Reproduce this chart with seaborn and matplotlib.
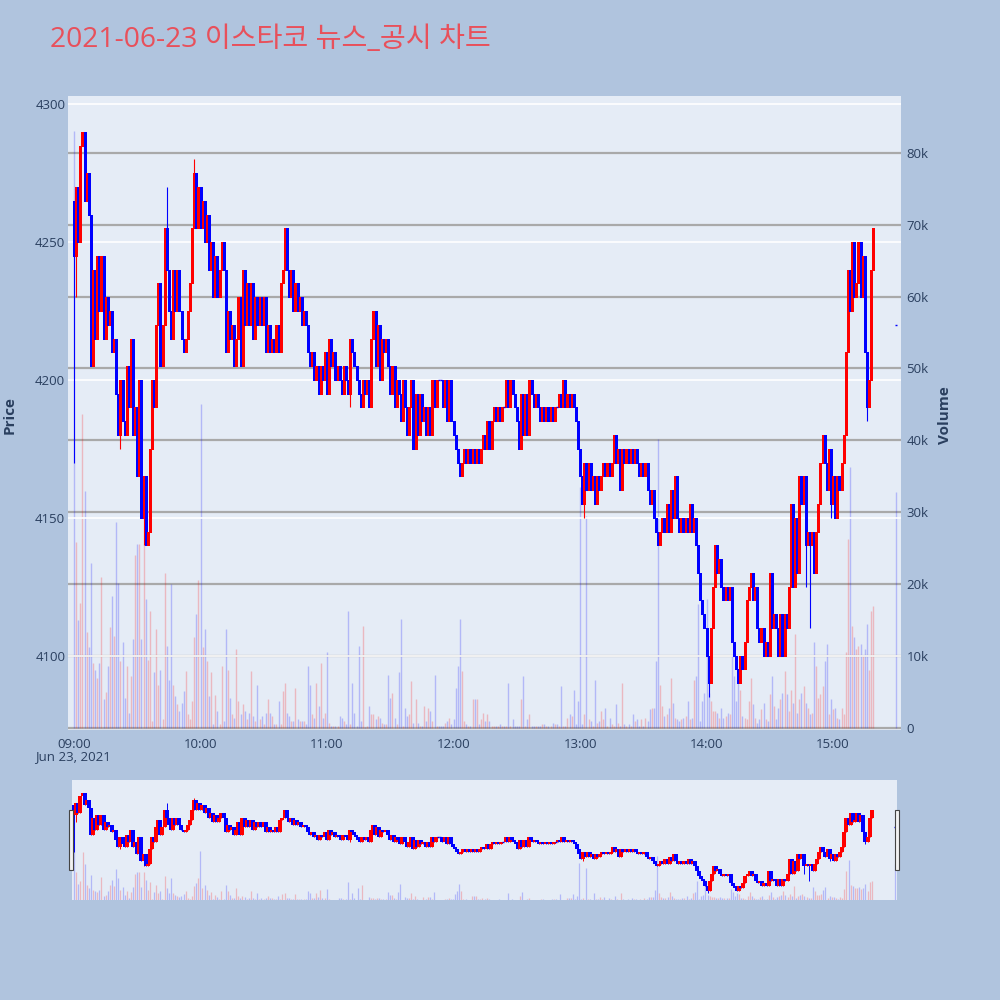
import numpy as np
import pandas as pd
import seaborn as sns
import matplotlib.pyplot as plt
import matplotlib.dates as mdates
from matplotlib.patches import Rectangle
from matplotlib.ticker import FuncFormatter

sns.set_theme(style="white")
plt.rcParams['font.family'] = ['Open Sans', 'Noto Sans CJK KR', 'DejaVu Sans']

TITLE = "2021-06-23 이스타코 뉴스_공시 차트"

# 1-minute closes, 09:00 .. 15:19
first_open = 4265
closes = [
    4245, 4270, 4250, 4285, 4290, 4265, 4275, 4260, 4205, 4240,
    4215, 4245, 4225, 4245, 4215, 4230, 4220, 4225, 4210, 4215,
    4195, 4180, 4200, 4185, 4180, 4205, 4190, 4215, 4180, 4190,
    4165, 4200, 4150, 4165, 4140, 4145, 4175, 4200, 4190, 4220,
    4235, 4205, 4220, 4255, 4240, 4225, 4215, 4240, 4225, 4240,
    4225, 4215, 4210, 4215, 4225, 4235, 4255, 4275, 4255, 4270,
    4255, 4265, 4250, 4260, 4240, 4250, 4230, 4245, 4230, 4240,
    4250, 4240, 4210, 4225, 4215, 4220, 4205, 4215, 4230, 4205,
    4240, 4220, 4235, 4220, 4235, 4215, 4230, 4220, 4230, 4220,
    4230, 4210, 4220, 4210, 4215, 4210, 4220, 4210, 4235, 4240,
    4255, 4240, 4230, 4240, 4225, 4235, 4225, 4230, 4220, 4225,
    4220, 4210, 4205, 4210, 4200, 4205, 4195, 4205, 4200, 4210,
    4195, 4215, 4205, 4210, 4200, 4205, 4200, 4195, 4205, 4200,
    4195, 4215, 4210, 4205, 4200, 4195, 4190, 4200, 4195, 4200,
    4190, 4215, 4225, 4205, 4220, 4200, 4215, 4210, 4215, 4205,
    4195, 4205, 4190, 4200, 4195, 4185, 4200, 4190, 4180, 4190,
    4200, 4175, 4195, 4180, 4195, 4185, 4190, 4180, 4190, 4180,
    4200, 4190, 4200, 4200, 4200, 4190, 4200, 4185, 4200, 4185,
    4180, 4175, 4170, 4165, 4170, 4175, 4170, 4175, 4170, 4175,
    4170, 4175, 4170, 4175, 4180, 4175, 4185, 4175, 4185, 4190,
    4185, 4190, 4185, 4190, 4190, 4200, 4190, 4200, 4195, 4190,
    4185, 4175, 4195, 4180, 4195, 4180, 4200, 4195, 4190, 4195,
    4190, 4185, 4190, 4185, 4190, 4185, 4190, 4185, 4190, 4190,
    4195, 4190, 4200, 4190, 4195, 4190, 4195, 4190, 4185, 4175,
    4165, 4155, 4170, 4160, 4170, 4160, 4165, 4155, 4165, 4160,
    4165, 4170, 4165, 4170, 4165, 4170, 4180, 4170, 4175, 4160,
    4175, 4170, 4175, 4170, 4175, 4170, 4175, 4170, 4165, 4170,
    4165, 4170, 4160, 4155, 4160, 4150, 4145, 4140, 4145, 4150,
    4145, 4155, 4145, 4160, 4150, 4165, 4150, 4145, 4150, 4145,
    4150, 4145, 4155, 4145, 4150, 4140, 4130, 4120, 4115, 4110,
    4100, 4090, 4110, 4125, 4140, 4130, 4135, 4125, 4120, 4125,
    4120, 4125, 4105, 4100, 4095, 4090, 4100, 4095, 4105, 4120,
    4125, 4130, 4120, 4125, 4110, 4105, 4110, 4100, 4105, 4100,
    4130, 4110, 4115, 4110, 4100, 4115, 4100, 4115, 4110, 4125,
    4155, 4125, 4150, 4130, 4165, 4155, 4165, 4140, 4145, 4140,
    4145, 4130, 4145, 4155, 4170, 4180, 4170, 4160, 4175, 4155,
    4165, 4150, 4165, 4160, 4170, 4180, 4210, 4240, 4225, 4250,
    4230, 4235, 4250, 4230, 4245, 4210, 4190, 4200, 4240, 4255,
]
auction_price = 4220  # 15:30 closing auction

# volume per minute in thousands, 09:00 .. 15:19
volumes_k = [
    83, 25.8, 15, 17.4, 43.7, 33, 13.3, 11.2, 23, 9,
    8.1, 7, 9, 21, 4, 5, 8.6, 14, 18.4, 12.8,
    28.6, 20.2, 9.3, 12, 4.2, 8.6, 2, 7.2, 12.3, 24,
    25.6, 25.6, 12.3, 25.6, 17.9, 9.5, 16.3, 0.9, 7.7, 13.7,
    6, 8.1, 1.2, 21.6, 11.4, 6.7, 20, 6, 4.4, 3.3,
    2.3, 3.5, 5.1, 7.9, 1.9, 1.2, 3.7, 12.6, 15.8, 20.5,
    45, 11.2, 13.7, 9.3, 4.4, 7.7, 0.5, 4.6, 2.3, 0.5,
    8.6, 0.9, 13.7, 8.1, 4.2, 1.9, 1.4, 10.9, 3.7, 1.9,
    3.3, 2.3, 1.2, 2.1, 7.9, 1.6, 0.9, 6, 1.2, 1.6,
    0.5, 2.1, 4, 2.1, 1.6, 0.5, 0.5, 3.7, 0.5, 5.1,
    6.3, 2.1, 1.6, 0.9, 0.9, 5.6, 1.2, 0.9, 0.9, 0.9,
    0.5, 8.6, 6, 1.9, 1.4, 6.3, 3, 9, 1.4, 2.1,
    10.5, 0.7, 0.2, 0.2, 0.2, 0.2, 1.6, 1.4, 0.9, 0.5,
    16.3, 0.5, 6.3, 2.1, 0.3, 11.4, 0.9, 14.2, 0.1, 0.3,
    3, 1.9, 1.9, 1.2, 1.6, 1.4, 0.7, 0.5, 0.5, 7.4,
    4.2, 4.9, 1.4, 0.5, 7.7, 15.1, 0.2, 2.8, 1.6, 1.9,
    6.5, 0.7, 4, 0.7, 0.3, 0.3, 3, 0.9, 2.8, 2.3,
    0.9, 7.4, 0.3, 0.3, 0.2, 0.3, 0.7, 0.9, 1.4, 0.5,
    1.2, 5.6, 8.6, 15.1, 7.9, 0.9, 0.5, 0.3, 0.3, 4,
    4, 4, 0.5, 1.2, 2.1, 0.9, 1.9, 0.9, 0.3, 0.3,
    0.3, 0.3, 0.5, 0.3, 0.2, 0.3, 6.3, 0.3, 1.2, 0.3,
    0.3, 0.3, 4, 7.2, 0.3, 1.2, 1.9, 0.3, 0.3, 0.3,
    0.3, 0.3, 0.5, 0.5, 0.3, 0.3, 0.3, 0.7, 0.5, 0.5,
    0.3, 5.8, 0.3, 0.3, 1.4, 1.9, 1.6, 5.3, 0.5, 3.7,
    33.5, 0.5, 1.9, 29.5, 1.2, 0.9, 0.3, 6.7, 0.7, 0.9,
    2.3, 1.2, 2.8, 0.3, 1.4, 0.5, 0.3, 3.3, 0.7, 0.3,
    6.3, 0.5, 0.3, 0.5, 0.3, 1.9, 0.9, 1.2, 0.3, 1.2,
    0.3, 1.4, 0.9, 2.6, 2.8, 2.8, 9.3, 40.2, 6, 3,
    1.6, 1.9, 2.8, 7, 3.5, 1.4, 1.2, 0.9, 1.2, 1.4,
    1.6, 3.7, 1.2, 1.4, 6.7, 7.2, 17.2, 0.9, 3.7, 4.9,
    17.9, 4.9, 3.7, 2.3, 2.3, 2.1, 1.4, 2.8, 1.4, 1.6,
    2.1, 1.9, 10.2, 7.2, 3.7, 6.3, 5.3, 1.6, 1.4, 1.2,
    3.7, 7, 3.3, 1.4, 0.7, 1.2, 2.6, 3.5, 1.2, 0.9,
    4.7, 7.2, 3, 1.2, 2.8, 4, 4.9, 7.9, 4.7, 2.3,
    5.3, 3.5, 13, 2.1, 4, 4.9, 5.8, 3.5, 2.8, 1.9,
    2.1, 11.9, 8.6, 4.2, 4.7, 5.8, 9.3, 11.6, 1.9, 4,
    2.6, 2.8, 1.4, 1.2, 2.8, 1.9, 10.5, 26.3, 36.3, 14.2,
    12.6, 10.9, 11.4, 11.6, 10.2, 10.9, 14.4, 8.1, 16.3, 17,
]
auction_volume_k = 32.8

# extra wick tips (minute index, price)
wick_highs = [(44, 4270), (57, 4280), (142, 4225), (256, 4180), (379, 4255)]
wick_lows = [(0, 4170), (1, 4230), (22, 4175), (33, 4140), (131, 4190), (161, 4175),
             (212, 4175), (242, 4150), (259, 4160), (301, 4085), (347, 4125),
             (349, 4110), (359, 4150), (376, 4185)]

RED = "#ff0000"
BLUE = "#0000ff"
PLOT_BG = "#e5ecf6"
PAPER_BG = "#b0c4de"
FONT_C = "#2a3f5f"

# build ohlc table
start = pd.Timestamp("2021-06-23 09:00")
minutes = list(range(len(closes))) + [390]
df = pd.DataFrame({
    "time": [start + pd.Timedelta(minutes=m) for m in minutes],
    "open": [first_open] + closes[:-1] + [auction_price],
    "close": closes + [auction_price],
    "volume": [v * 1000 for v in volumes_k + [auction_volume_k]],
})
df["high"] = df[["open", "close"]].max(axis=1)
df["low"] = df[["open", "close"]].min(axis=1)
for m, p in wick_highs:
    df.loc[m, "high"] = max(df.loc[m, "high"], p)
for m, p in wick_lows:
    df.loc[m, "low"] = min(df.loc[m, "low"], p)
df["up"] = df["close"] > df["open"]
df["x"] = mdates.date2num(df["time"])
colors = np.where(df["up"], RED, BLUE)
one_min = 1 / 1440


def draw_candles(ax, lw_body, lw_wick):
    ax.vlines(df["x"], df["low"], df["high"], colors=colors, linewidth=lw_wick, zorder=3)
    ax.vlines(df["x"], df["open"], df["close"], colors=colors, linewidth=lw_body,
              antialiased=False, zorder=4)
    flat = df[df["open"] == df["close"]]
    ax.hlines(flat["close"], flat["x"] - 0.45 * one_min, flat["x"] + 0.45 * one_min,
              colors=np.array(colors)[flat.index], linewidth=1.0, zorder=4)


def draw_volume(ax, lw):
    ax.vlines(df["x"], 0, df["volume"], colors=colors, alpha=0.22, linewidth=lw, zorder=2)


fig = plt.figure(figsize=(10, 10), dpi=100)
fig.patch.set_facecolor(PAPER_BG)

xmin = mdates.date2num(start - pd.Timedelta(minutes=2.85))
xmax = mdates.date2num(start + pd.Timedelta(minutes=392.2))

# main chart
ax = fig.add_axes([0.068, 0.27, 0.833, 0.634])
ax_vol = ax.twinx()
ax.set_zorder(ax_vol.get_zorder() + 1)
ax.patch.set_visible(False)
ax_vol.patch.set_visible(True)
ax_vol.set_facecolor(PLOT_BG)

draw_volume(ax_vol, 1.0)
draw_candles(ax, 2.1, 0.8)

ax.set_xlim(xmin, xmax)
ax.set_ylim(4073, 4303)
ax_vol.set_ylim(-300, 87900)

ax.set_yticks([4100, 4150, 4200, 4250, 4300])
ax.yaxis.grid(True, color="white", linewidth=1.2)
ax.xaxis.grid(False)
ax_vol.set_yticks(np.arange(0, 80001, 10000))
ax_vol.yaxis.grid(True, color="#a9a9a9", linewidth=1.6)
ax_vol.yaxis.set_major_formatter(FuncFormatter(lambda v, p: "0" if v == 0 else f"{int(v / 1000)}k"))

hours = [start + pd.Timedelta(hours=h) for h in range(7)]
ax.set_xticks(mdates.date2num(hours))
ax.xaxis.set_major_formatter(mdates.DateFormatter("%H:%M"))

for a in (ax, ax_vol):
    for s in a.spines.values():
        s.set_visible(False)
    a.tick_params(length=0, labelsize=9.5, labelcolor=FONT_C)
ax.tick_params(axis="y", pad=2)
ax.tick_params(axis="x", pad=6)
ax_vol.tick_params(axis="y", pad=4)

fig.text(0.073, 0.243, "Jun 23, 2021", ha="center", va="center", fontsize=9.5, color=FONT_C)
fig.text(0.010, 0.585, "Price", rotation=90, ha="center", va="center",
         fontsize=11, fontweight="bold", color=FONT_C)
fig.text(0.945, 0.585, "Volume", rotation=90, ha="center", va="center",
         fontsize=11, fontweight="bold", color=FONT_C)
fig.text(0.05, 0.96, TITLE, ha="left", va="center", fontsize=20.3, color="#e8505b")

# range slider preview
ax_s = fig.add_axes([0.072, 0.10, 0.825, 0.12])
ax_s_vol = ax_s.twinx()
ax_s.set_zorder(ax_s_vol.get_zorder() + 1)
ax_s.patch.set_visible(False)
ax_s_vol.patch.set_visible(True)
ax_s_vol.set_facecolor(PLOT_BG)
draw_volume(ax_s_vol, 0.9)
draw_candles(ax_s, 1.6, 0.7)
ax_s.set_xlim(mdates.date2num(start - pd.Timedelta(minutes=1)), mdates.date2num(start + pd.Timedelta(minutes=391)))
ax_s.set_ylim(4071, 4317)
ax_s_vol.set_ylim(0, 110000)
for a in (ax_s, ax_s_vol):
    a.set_xticks([])
    a.set_yticks([])
    a.grid(False)
    for s in a.spines.values():
        s.set_visible(False)

for hx in (0.069, 0.895):
    fig.patches.append(Rectangle((hx, 0.13), 0.004, 0.06, transform=fig.transFigure,
                                 facecolor="#f2f2f2", edgecolor="#444444", linewidth=0.8))

fig.savefig("out.png", dpi=100, facecolor=PAPER_BG)
